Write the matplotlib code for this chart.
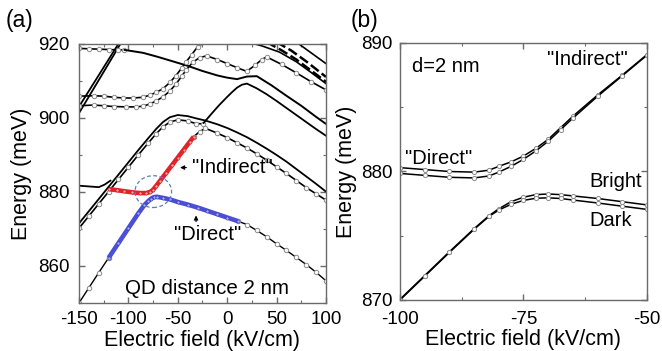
import matplotlib
matplotlib.use("Agg")
import matplotlib.pyplot as plt
from matplotlib.patches import Ellipse

plt.rcParams['font.family'] = ['Liberation Sans', 'DejaVu Sans']
plt.rcParams['axes.unicode_minus'] = False

# ---------------- panel (a): QD distance 2 nm, full field range ----------------
# lowest branch, left black part
low_left_x = [-150, -140, -130, -120]
low_left_y = [850.0, 854.1, 858.2, 862.2]
# "Direct" branch (blue)
direct_x = [-120, -110, -100, -90, -84, -80, -77, -74, -71, -65, -58, -50, -40, -30, -20, -10, 0, 11]
direct_y = [862.2, 866.2, 870.2, 874.2, 876.4, 877.5, 878.2, 878.6, 878.7, 878.4, 878.0, 877.3,
            876.6, 875.8, 874.9, 874.0, 873.1, 872.1]
# lowest branch, right black part
low_right_x = [11, 20, 30, 40, 50, 60, 70, 80, 90, 100]
low_right_y = [872.1, 871.2, 869.6, 867.9, 866.0, 864.2, 862.3, 860.4, 858.3, 856.0]

# "Indirect" branch (red)
indirect_x = [-120, -112, -104, -96, -88, -82, -78, -75, -72, -68, -62, -56, -50, -44, -38, -34]
indirect_y = [880.8, 880.5, 880.2, 879.9, 879.7, 879.7, 880.0, 880.6, 881.6, 883.0, 885.1,
              887.2, 889.3, 891.4, 893.5, 894.9]
# continuation of the indirect branch
ind_cont_x = [-34, -28, -22, -10, 0, 10, 20, 30, 40, 50, 60, 70, 80, 90, 100]
ind_cont_y = [894.9, 896.3, 897.2, 895.9, 894.7, 893.3, 891.9, 890.3, 888.6, 886.8, 885.0,
              883.1, 881.2, 879.5, 877.8]

# flat state at the left edge near 881 meV
flat_x = [-150, -140, -130, -124, -118]
flat_y = [881.7, 881.5, 881.3, 882.0, 883.1]

# rising doublet: solid upper line
rise_up_x = [-150, -140, -130, -120, -110, -100, -90, -80, -72, -65, -58, -50, -40, -30, -22]
rise_up_y = [871.5, 874.8, 878.1, 881.4, 884.7, 888.0, 891.3, 894.5, 897.0, 898.9, 900.2,
             900.8, 900.5, 899.8, 899.3]
# rising doublet: lower line with points
rise_lo_x = [-150, -140, -130, -120, -110, -100, -90, -80, -72, -65, -58, -50, -40, -32, -24]
rise_lo_y = [870.2, 873.5, 876.8, 880.1, 883.4, 886.7, 890.0, 893.2, 895.7, 897.6, 898.9,
             899.5, 899.2, 898.5, 898.4]
# descending continuation of the solid upper line
desc_x = [-22, -10, 0, 10, 20, 30, 40, 50, 60, 70, 80, 90, 100]
desc_y = [899.3, 898.3, 897.3, 896.1, 894.8, 893.3, 891.7, 890.0, 888.2, 886.2, 884.2, 882.2, 880.1]
# steep state rising from the kink
steep_x = [-24, -15, -8, 0, 5, 10, 15, 20, 30, 40, 50, 60, 70, 80, 90, 100]
steep_y = [898.6, 901.4, 903.5, 905.7, 907.0, 908.2, 909.0, 909.3, 908.0, 906.4, 904.6,
           902.7, 900.8, 898.9, 897.0, 895.2]

# upper doublet near 903-906 meV
g1_x = [-150, -135, -125, -115, -105, -95, -85, -78, -72, -65, -58, -52, -46, -41.7, -36, -30, -27]
g1_y = [905.9, 906.0, 905.9, 905.6, 905.4, 905.4, 905.6, 906.2, 906.9, 907.9, 909.6, 911.4,
        913.5, 915.1, 917.1, 919.2, 920.3]
g2_x = [-150, -135, -125, -115, -102, -92, -85, -78, -72, -65, -58, -52, -46, -41.7, -35, -28,
        -20.8, -10, 0, 10, 19.7, 28, 35, 40, 55, 70, 85, 100]
g2_y = [903.3, 903.5, 903.3, 903.1, 903.0, 903.0, 903.2, 903.8, 904.6, 905.7, 907.3, 909.1,
        911.3, 912.9, 915.0, 916.3, 916.8, 915.8, 914.7, 913.6, 912.6, 914.2, 915.8, 916.5,
        914.5, 912.2, 909.8, 907.6]
# top states
top_x = [-150, -140, -130, -120, -110, -104]
top_y = [918.8, 918.7, 918.6, 918.5, 918.4, 918.4]
l2_x = [-104, -85, -70, -55, -40, -25, -10, 0, 10, 20, 30, 45, 60, 75, 90, 100]
l2_y = [918.4, 917.6, 916.5, 915.3, 914.1, 912.7, 911.5, 910.9, 910.5, 911.2, 911.3, 908.8,
        906.0, 903.3, 900.3, 898.4]
d1a_x = [-150, -107]
d1a_y = [901.3, 920.5]
d1b_x = [-152, -109]
d1b_y = [902.2, 920.5]
# bundle in the upper right corner
c1_x = [-27, -20, 0, 21, 35, 53, 70, 85, 100]
c1_y = [920.3, 920.5, 920.5, 920.5, 919.5, 917.8, 915.2, 912.3, 909.3]
c2_x = [40, 55, 70, 85, 100]
c2_y = [920.5, 918.3, 915.8, 912.8, 909.8]
c3_x = [50, 65, 80, 100]
c3_y = [920.5, 918.2, 915.3, 911.1]
c4_x = [70, 85, 100]
c4_y = [920.5, 917.6, 914.7]

# ---------------- panel (b): zoom of the anticrossing, d = 2 nm ----------------
b_x = [-100, -95, -90, -85, -82, -80, -77.5, -75, -72.5, -70, -67.5, -65, -60, -55, -50]
b_upper1 = [880.3, 880.15, 880.0, 879.95, 880.1, 880.4, 880.75, 881.2, 881.8, 882.5, 883.4,
            884.3, 885.95, 887.5, 889.1]
b_upper2 = [879.85, 879.7, 879.55, 879.5, 879.65, 879.95, 880.4, 880.95, 881.6, 882.35, 883.25,
            884.15, 885.85, 887.45, 889.05]
b_bright = [870.05, 871.9, 873.75, 875.55, 876.55, 877.1, 877.65, 878.0, 878.2, 878.25, 878.2,
            878.1, 877.9, 877.65, 877.4]
b_dark = [870.0, 871.85, 873.7, 875.5, 876.5, 877.0, 877.45, 877.75, 877.92, 877.95, 877.9,
          877.78, 877.55, 877.3, 877.05]

FRAME = '#6a6a6a'
TICK_FS = 13.5
AX_FS = 15.5
ANN_FS = 14.5


def plain(ax, x, y, lw=1.2, color='black', z=2):
    ax.plot(x, y, color=color, lw=lw, solid_capstyle='round', solid_joinstyle='round', zorder=z)


def marked(ax, x, y, lw=1.2, color='black', z=2, ms=3.2):
    ax.plot(x, y, color=color, lw=lw, zorder=z, solid_joinstyle='round',
            marker='o', ms=ms, mfc='white', mec='#8a8a8a', mew=0.7)


def style(ax, xmaj, xmin, ymaj, ymin, xpad, ypad):
    for s in ax.spines.values():
        s.set_color(FRAME)
        s.set_linewidth(1.0)
    ax.set_xticks(xmaj)
    ax.set_xticks(xmin, minor=True)
    ax.set_yticks(ymaj)
    ax.set_yticks(ymin, minor=True)
    ax.tick_params(which='both', direction='in', top=True, right=True, color=FRAME)
    ax.tick_params(which='major', length=4, width=1.0, labelsize=TICK_FS)
    ax.tick_params(which='minor', length=2.5, width=0.8)
    ax.tick_params(axis='x', which='major', pad=xpad)
    ax.tick_params(axis='y', which='major', pad=ypad)


fig = plt.figure(figsize=(6.62, 3.51), dpi=100)
axa = fig.add_axes([0.1193, 0.1368, 0.3731, 0.7379])
axb = fig.add_axes([0.6042, 0.1453, 0.3731, 0.7322])

# ---- panel (a)
plain(axa, d1a_x, d1a_y, lw=1.3)
plain(axa, d1b_x, d1b_y, lw=1.3)
marked(axa, top_x, top_y)
plain(axa, l2_x, l2_y, lw=1.4)
marked(axa, g1_x, g1_y)
marked(axa, g2_x, g2_y)
plain(axa, c1_x, c1_y, lw=1.2)
for cx, cy in [(c2_x, c2_y), (c3_x, c3_y)]:
    axa.plot(cx, cy, color='black', lw=1.8, dashes=(4, 1.5), zorder=2)
plain(axa, c4_x, c4_y, lw=1.2)
plain(axa, flat_x, flat_y, lw=1.3)
plain(axa, rise_up_x, rise_up_y, lw=1.3)
marked(axa, rise_lo_x, rise_lo_y)
plain(axa, desc_x, desc_y, lw=1.3)
plain(axa, steep_x, steep_y, lw=1.3)
marked(axa, ind_cont_x, ind_cont_y)
marked(axa, low_left_x, low_left_y, lw=1.0)
marked(axa, low_right_x, low_right_y, lw=1.0)
axa.plot(indirect_x, indirect_y, color='#e3232a', lw=3.3, zorder=3,
         solid_capstyle='butt', marker='o', ms=2.2, mfc='#f3a0a0', mec='#c02020', mew=0.4)
axa.plot(direct_x, direct_y, color='#4b4fd6', lw=3.3, zorder=3,
         solid_capstyle='butt', marker='o', ms=2.2, mfc='#a9abf0', mec='#3a3cb0', mew=0.4)

axa.add_patch(Ellipse((-74.8, 880.1), 37, 8.6, fill=False, ec='#5a7fb8', lw=0.9,
                      ls=(0, (3, 2)), zorder=4))

axa.text(-36, 886.7, '"Indirect"', fontsize=ANN_FS, ha='left', va='center')
axa.annotate('', xy=(-50.5, 886.6), xytext=(-38.5, 886.6),
             arrowprops=dict(arrowstyle='-|>', color='black', lw=0.8, mutation_scale=6))
axa.text(-20, 868.5, '"Direct"', fontsize=ANN_FS, ha='center', va='center')
axa.annotate('', xy=(-31.5, 874.4), xytext=(-31.5, 871.2),
             arrowprops=dict(arrowstyle='-|>', color='black', lw=0.8, mutation_scale=6))
axa.text(-20.5, 854.0, 'QD distance 2 nm', fontsize=ANN_FS + 0.3, ha='center', va='center')

axa.set_xlim(-150, 100)
axa.set_ylim(850, 920)
style(axa, [-150, -100, -50, 0, 50, 100], [-125, -75, -25, 25, 75],
      [860, 880, 900, 920], [850, 870, 890, 910], xpad=6.0, ypad=7.0)
axa.set_xlabel('Electric field (kV/cm)', fontsize=AX_FS, labelpad=1.5)
axa.set_ylabel('Energy (meV)', fontsize=AX_FS, labelpad=4)
fig.text(6 / 662, 1 - 21 / 351, '(a)', fontsize=16.5, ha='left', va='center')

# ---- panel (b)
for yy in (b_upper1, b_upper2, b_bright, b_dark):
    marked(axb, b_x, yy, lw=1.1, ms=3.0)

axb.text(-97.6, 888.15, 'd=2 nm', fontsize=ANN_FS, ha='left', va='center')
axb.text(-53.8, 888.7, '"Indirect"', fontsize=ANN_FS, ha='right', va='center')
axb.text(-99.0, 881.0, '"Direct"', fontsize=ANN_FS, ha='left', va='center')
axb.text(-61.6, 879.2, 'Bright', fontsize=ANN_FS, ha='left', va='center')
axb.text(-61.6, 876.2, 'Dark', fontsize=ANN_FS, ha='left', va='center')

axb.set_xlim(-100, -50)
axb.set_ylim(870, 890)
style(axb, [-100, -75, -50], [-87.5, -62.5], [870, 880, 890], [875, 885], xpad=8, ypad=5.5)
axb.set_xlabel('Electric field (kV/cm)', fontsize=AX_FS, labelpad=0.5)
axb.set_ylabel('Energy (meV)', fontsize=AX_FS, labelpad=3)
fig.text(351 / 662, 1 - 21 / 351, '(b)', fontsize=16.5, ha='left', va='center')

fig.savefig('out.png', dpi=100)
